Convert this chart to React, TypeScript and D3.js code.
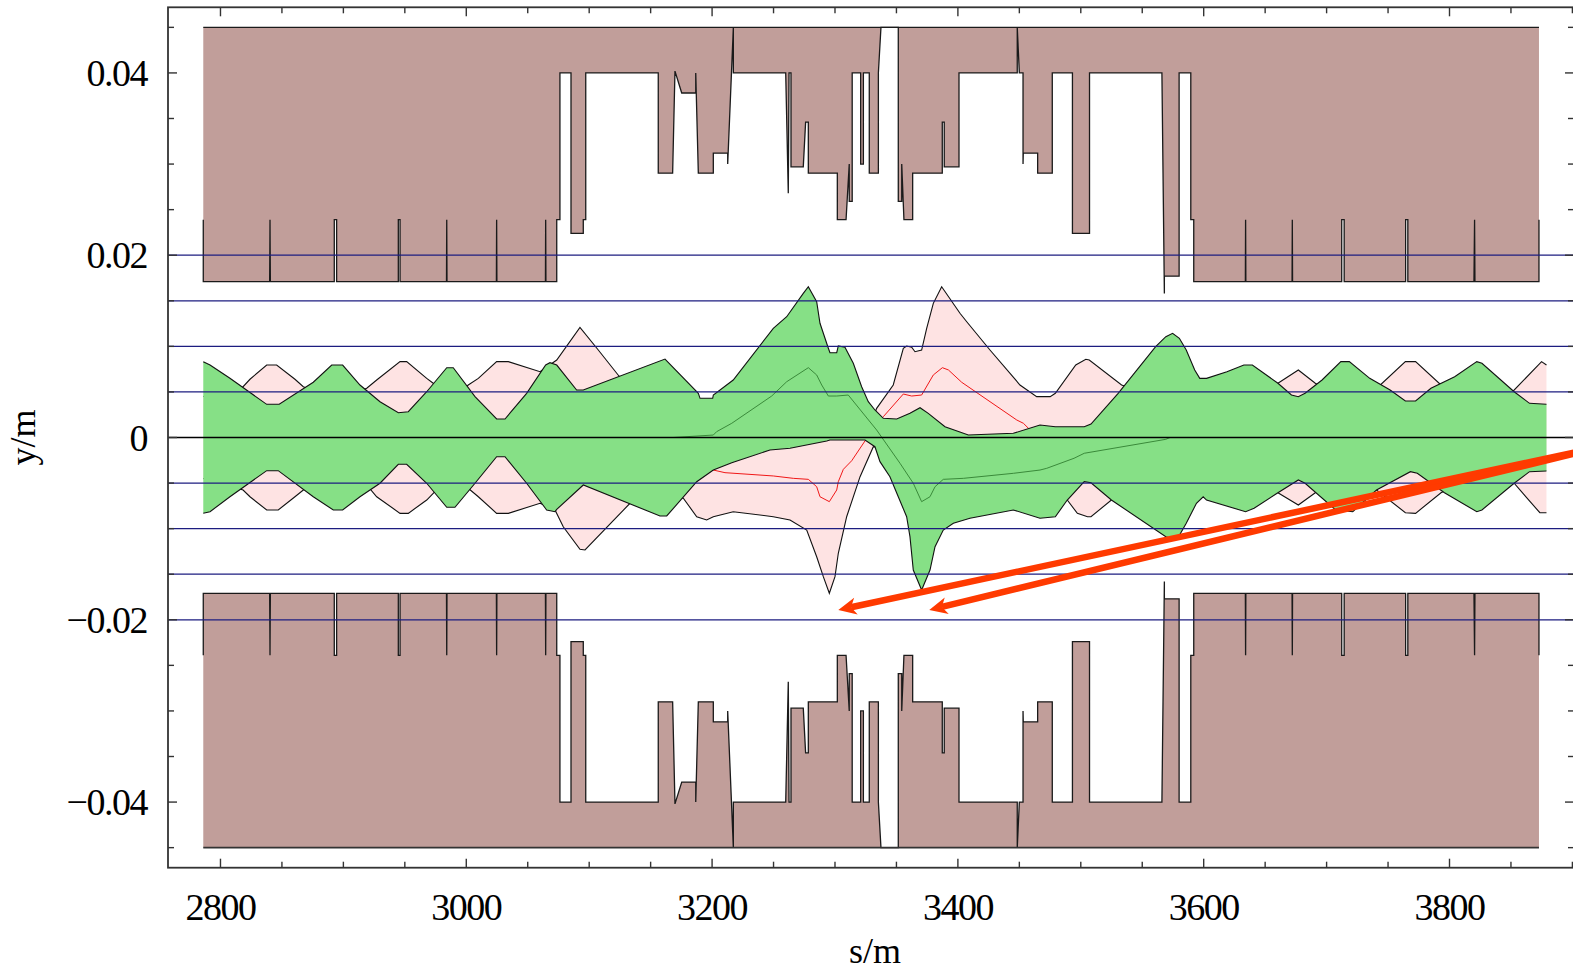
import * as d3 from "d3";

type Pt = [number, number];

// upper jaw of the aperture, [s (m), half-gap (m)]; the lower jaw is its mirror
const aperture: Pt[] = [
  [2786.0, 0.0239], [2786.0, 0.0171],
  [2840.0, 0.0171], [2840.3, 0.0239], [2840.6, 0.0171],
  [2892.6, 0.0171], [2892.6, 0.0239], [2894.5, 0.0239], [2894.5, 0.0171],
  [2944.7, 0.0171], [2944.7, 0.0239], [2946.1, 0.0239], [2946.1, 0.0171],
  [2983.9, 0.0171], [2984.1, 0.0239], [2984.3, 0.0171],
  [3024.5, 0.0171], [3024.7, 0.0239], [3024.9, 0.0171],
  [3064.4, 0.0171], [3064.6, 0.0239], [3064.8, 0.0171],
  [3073.6, 0.0171], [3073.6, 0.0239], [3076.2, 0.0239], [3076.2, 0.04],
  [3085.2, 0.04], [3085.2, 0.0224], [3095.2, 0.0224], [3095.2, 0.0239], [3097.2, 0.0239], [3097.2, 0.04],
  [3156.2, 0.04], [3156.2, 0.029], [3167.9, 0.029], [3169.8, 0.0402], [3175.3, 0.0378], [3186.7, 0.0378],
  [3186.7, 0.04], [3188.8, 0.029], [3201.0, 0.029], [3201.0, 0.0312], [3212.7, 0.0312], [3212.7, 0.03],
  [3217.3, 0.045], [3217.3, 0.04],
  [3259.9, 0.04], [3262.0, 0.0268], [3262.6, 0.04], [3264.2, 0.04], [3264.2, 0.0297], [3274.2, 0.0297],
  [3276.1, 0.0346], [3278.3, 0.0346], [3278.3, 0.029],
  [3301.9, 0.029], [3301.9, 0.0239], [3309.0, 0.0239], [3311.6, 0.03], [3311.6, 0.0259], [3314.0, 0.0259], [3314.0, 0.04],
  [3320.9, 0.04], [3320.9, 0.03], [3323.1, 0.03], [3323.1, 0.04], [3327.9, 0.04], [3327.9, 0.029],
  [3335.3, 0.029], [3335.3, 0.04], [3337.4, 0.045],
  [3351.5, 0.045], [3351.5, 0.0259], [3354.3, 0.0259], [3354.3, 0.03], [3356.1, 0.0239], [3363.2, 0.0239], [3363.2, 0.029],
  [3387.3, 0.029], [3387.3, 0.0346], [3388.9, 0.0346], [3388.9, 0.0297], [3400.9, 0.0297], [3400.9, 0.04],
  [3448.3, 0.04], [3448.3, 0.045], [3450.0, 0.04], [3453.0, 0.04], [3453.0, 0.03], [3453.2, 0.0312],
  [3464.9, 0.0312], [3464.9, 0.029], [3476.8, 0.029], [3476.8, 0.04],
  [3493.2, 0.04], [3493.2, 0.0224], [3507.1, 0.0224], [3507.1, 0.04],
  [3566.0, 0.04], [3568.0, 0.0158], [3568.0, 0.0177], [3580.0, 0.0177], [3580.0, 0.04],
  [3589.5, 0.04], [3589.5, 0.0239], [3591.9, 0.0239], [3591.9, 0.0171],
  [3633.9, 0.0171], [3634.1, 0.0239], [3634.3, 0.0171],
  [3671.9, 0.0171], [3672.1, 0.0239], [3672.3, 0.0171],
  [3712.3, 0.0171], [3712.3, 0.0239], [3714.3, 0.0239], [3714.3, 0.0171],
  [3764.3, 0.0171], [3764.3, 0.0239], [3766.1, 0.0239], [3766.1, 0.0171],
  [3819.9, 0.0171], [3820.4, 0.0239], [3820.7, 0.0171],
  [3872.8, 0.0171], [3872.8, 0.0239],
];
const jawLimit = 0.045;

// green beam envelope
const greenTop: Pt[] = [
  [2786.0, 0.00832], [2791.5, 0.00795], [2807.7, 0.0065], [2837.6, 0.00364], [2847.8, 0.00364],
  [2875.5, 0.00606], [2890.5, 0.00795], [2899.4, 0.00795], [2913.5, 0.00576], [2929.8, 0.00393],
  [2944.7, 0.00272], [2952.8, 0.00283], [2967.8, 0.00502], [2984.1, 0.00766], [2989.4, 0.00766],
  [3007.1, 0.00448], [3024.7, 0.00203], [3031.5, 0.00203], [3049.1, 0.00485], [3064.6, 0.00795],
  [3068.1, 0.00821], [3073.6, 0.00795], [3089.8, 0.00521], [3095.2, 0.00521], [3161.7, 0.00861],
  [3188.8, 0.00485], [3190.2, 0.0043], [3200.5, 0.0043], [3201.0, 0.00466], [3217.2, 0.00631],
  [3249.8, 0.01198], [3260.7, 0.01325], [3274.2, 0.01582], [3278.3, 0.01654], [3285.1, 0.0149],
  [3287.8, 0.01253], [3294.6, 0.00979], [3295.9, 0.0093], [3301.4, 0.0093], [3302.7, 0.01004],
  [3308.1, 0.0099], [3314.9, 0.00814], [3321.7, 0.00557], [3327.1, 0.00393], [3332.5, 0.00302],
  [3339.3, 0.00211], [3350.2, 0.00203], [3361.0, 0.00265], [3369.2, 0.00327], [3375.9, 0.00265],
  [3389.5, 0.00118], [3408.5, 0.00027], [3445.1, 0.00046], [3466.8, 0.00137], [3479.3, 0.00118],
  [3502.8, 0.00118], [3508.3, 0.00148], [3530.4, 0.00485], [3560.9, 0.00996], [3569.2, 0.01106],
  [3574.7, 0.01143], [3580.2, 0.01088], [3585.8, 0.0096], [3592.7, 0.00741], [3596.8, 0.00649],
  [3602.3, 0.00649], [3618.9, 0.00722], [3632.7, 0.00795], [3639.6, 0.00795], [3660.4, 0.00595],
  [3671.4, 0.00466], [3677.0, 0.00448], [3682.5, 0.00485], [3696.3, 0.00631], [3711.6, 0.00832],
  [3718.5, 0.00832], [3735.1, 0.00649], [3751.7, 0.00521], [3764.1, 0.004], [3772.4, 0.004],
  [3784.9, 0.0054], [3804.2, 0.00667], [3822.2, 0.00832], [3826.4, 0.00814], [3852.6, 0.00502],
  [3865.1, 0.00375], [3878.9, 0.00364],
];
const greenBot: Pt[] = [
  [2786.0, -0.00832], [2791.5, -0.00814], [2807.7, -0.0065], [2837.6, -0.00364], [2847.0, -0.00364],
  [2875.5, -0.0065], [2891.8, -0.00795], [2899.4, -0.00795], [2913.5, -0.0065], [2929.8, -0.00502],
  [2944.7, -0.00294], [2951.5, -0.00294], [2967.8, -0.00502], [2984.1, -0.00766], [2990.8, -0.00766],
  [3007.1, -0.00502], [3024.7, -0.00211], [3031.5, -0.00211], [3049.1, -0.00502], [3065.4, -0.00795],
  [3072.2, -0.00814], [3073.6, -0.00788], [3095.2, -0.00521], [3157.6, -0.00861], [3163.1, -0.00861],
  [3187.5, -0.00485], [3201.0, -0.00357], [3216.0, -0.00276], [3247.1, -0.00137], [3263.4, -0.00118],
  [3293.3, -0.00038], [3295.9, -0.00027], [3324.4, -0.00027], [3332.5, -0.00101], [3336.6, -0.00265],
  [3344.7, -0.0043], [3351.5, -0.0065], [3358.3, -0.00869], [3361.0, -0.01088], [3363.7, -0.01454],
  [3370.5, -0.01673], [3377.3, -0.01454], [3381.4, -0.01198], [3388.1, -0.01015], [3396.3, -0.00941],
  [3409.8, -0.00886], [3445.1, -0.00795], [3466.8, -0.00886], [3479.3, -0.00869], [3489.0, -0.00686],
  [3502.8, -0.00485], [3508.3, -0.00496], [3524.9, -0.00686], [3569.2, -0.01088], [3573.4, -0.01106],
  [3578.9, -0.01106], [3585.8, -0.00941], [3594.1, -0.00722], [3599.6, -0.0065], [3602.3, -0.00686],
  [3634.1, -0.00814], [3641.0, -0.00777], [3660.4, -0.00606], [3677.0, -0.00466], [3682.5, -0.00502],
  [3707.4, -0.00795], [3721.3, -0.00814], [3740.6, -0.00576], [3768.2, -0.00375], [3773.8, -0.00393],
  [3795.9, -0.00606], [3822.2, -0.00814], [3826.4, -0.00795], [3852.6, -0.00502], [3865.1, -0.00375],
  [3878.9, -0.00368],
];

// pink beam envelope
const pinkTop: Pt[] = [
  [2786.0, 0.0045], [2818.4, 0.00557], [2824.0, 0.00639], [2837.6, 0.00795], [2845.7, 0.00795],
  [2860.6, 0.00639], [2867.4, 0.00557], [2894.8, 0.0041], [2919.0, 0.0054], [2927.1, 0.00631],
  [2946.1, 0.00832], [2951.5, 0.00832], [2967.8, 0.00649], [2973.1, 0.00595], [2986.8, 0.0041],
  [3001.6, 0.00576], [3009.8, 0.00649], [3024.7, 0.00832], [3034.2, 0.00832], [3060.0, 0.00722],
  [3073.6, 0.0085], [3092.5, 0.01209], [3107.4, 0.0096], [3124.2, 0.00675], [3149.5, 0.0036],
  [3200.7, 0.0014], [3249.5, 0.0006], [3278.0, 0.0006], [3295.1, 0.0019], [3312.2, 0.0006],
  [3325.2, 0.0002], [3333.9, 0.0032], [3347.4, 0.00576], [3355.6, 0.00979], [3358.3, 0.01004],
  [3362.4, 0.0099], [3365.1, 0.00941], [3370.5, 0.0096], [3374.6, 0.01198], [3380.0, 0.01472],
  [3386.8, 0.01654], [3401.7, 0.01363], [3407.2, 0.0127], [3426.1, 0.0096], [3450.5, 0.00576],
  [3464.1, 0.00448], [3475.1, 0.00448], [3479.3, 0.00485], [3495.9, 0.00795], [3504.1, 0.00858],
  [3506.9, 0.0085], [3533.2, 0.00576], [3580.7, 0.0036], [3645.8, 0.0047], [3660.4, 0.00595],
  [3677.0, 0.00741], [3690.8, 0.00595], [3715.2, 0.0041], [3743.7, 0.00576], [3764.1, 0.00832],
  [3772.4, 0.00832], [3793.1, 0.00576], [3823.2, 0.0041], [3851.3, 0.00502], [3874.9, 0.00832],
  [3878.9, 0.00795],
];
const pinkBot: Pt[] = [
  [2786.0, -0.0045], [2818.4, -0.00576], [2824.0, -0.0065], [2837.6, -0.00795], [2847.0, -0.00795],
  [2860.6, -0.0065], [2867.4, -0.00576], [2894.8, -0.0044], [2919.0, -0.00521], [2927.1, -0.0065],
  [2946.1, -0.00832], [2952.8, -0.00832], [2967.8, -0.00686], [2973.1, -0.00612], [2986.8, -0.0044],
  [3001.6, -0.00557], [3009.8, -0.0065], [3024.7, -0.00832], [3034.2, -0.00832], [3060.0, -0.00722],
  [3072.2, -0.00795], [3078.9, -0.00979], [3092.5, -0.01227], [3096.6, -0.01234], [3133.2, -0.00722],
  [3157.6, -0.0063], [3176.6, -0.00667], [3187.5, -0.00869], [3195.6, -0.00905], [3201.0, -0.00869],
  [3217.2, -0.00814], [3249.8, -0.00869], [3263.4, -0.00905], [3277.0, -0.01015], [3285.1, -0.01308],
  [3290.5, -0.01527], [3295.4, -0.01709], [3300.0, -0.01527], [3302.7, -0.0127], [3309.5, -0.00869],
  [3320.4, -0.0043], [3331.2, -0.00101], [3352.9, -0.0016], [3385.4, -0.0016], [3426.1, -0.0022],
  [3466.8, -0.0033], [3483.0, -0.0058], [3489.0, -0.00686], [3497.2, -0.00832], [3505.5, -0.00869],
  [3508.3, -0.00869], [3524.9, -0.00686], [3580.7, -0.0036], [3645.8, -0.0047], [3660.4, -0.00606],
  [3677.0, -0.00741], [3690.8, -0.00606], [3715.2, -0.0041], [3740.6, -0.00576], [3764.1, -0.00825],
  [3772.4, -0.00832], [3793.1, -0.00606], [3823.2, -0.0041], [3852.6, -0.00502], [3873.5, -0.00825],
  [3878.9, -0.00825],
];

// beam centroids
const pinkOrbit: Pt[] = [
  [2786.0, 0], [3133.2, 0], [3173.9, -0.0019], [3201.0, -0.00357], [3210.5, -0.00386],
  [3249.8, -0.00422], [3266.1, -0.00448], [3278.3, -0.00459], [3285.1, -0.0054], [3287.8, -0.0065],
  [3295.4, -0.00704], [3301.4, -0.00576], [3302.7, -0.00485], [3306.8, -0.00349], [3313.6, -0.00255],
  [3324.4, -0.00038], [3339.3, 0.00228], [3355.6, 0.00477], [3362.4, 0.00455], [3370.5, 0.00466],
  [3380.0, 0.00686], [3387.4, 0.00766], [3392.3, 0.00741], [3403.1, 0.00606], [3447.9, 0.00192],
  [3453.3, 0.00156], [3457.4, 0.00101], [3471.0, 0], [3878.9, 0],
];
const greenOrbit: Pt[] = [
  [2786.0, 0], [3168.4, 0], [3201.0, 0.00027], [3203.7, 0.00064], [3216.0, 0.00156],
  [3248.5, 0.00455], [3260.7, 0.00612], [3278.3, 0.00766], [3285.1, 0.00686], [3289.2, 0.00576],
  [3294.6, 0.00455], [3301.4, 0.00455], [3310.8, 0.00466], [3333.9, 0.00082], [3352.9, -0.00283],
  [3363.7, -0.00502], [3370.5, -0.00704], [3377.3, -0.0065], [3381.4, -0.0054], [3388.1, -0.00459],
  [3404.4, -0.00448], [3445.1, -0.00393], [3466.8, -0.00357], [3472.3, -0.00338], [3494.5, -0.00228],
  [3502.8, -0.00173], [3569.2, -0.0002], [3572.6, 0], [3878.9, 0],
];

// annotation arrows: common origin off to the right, two tips
const arrowTail: Pt = [3930.6, -0.00082];
const arrowTips: Pt[] = [[3302.7, -0.01892], [3376.7, -0.01892]];

const xMajor = [2800, 3000, 3200, 3400, 3600, 3800];
const yMajor = [0.04, 0.02, 0, -0.02, -0.04];
const yLabels = ["0.04", "0.02", "0", "\u22120.02", "\u22120.04"];
const gridLevels = [0.02, 0.015, 0.01, 0.005, -0.005, -0.01, -0.015, -0.02];

const FONT = "'Liberation Serif', 'Times New Roman', serif";

export default function App() {
  const W = 1573, H = 972;
  const left = 168, right = 1574, top = 7.3, bottom = 867.7;

  const x = d3.scaleLinear([2757.3, 3901.3], [left, right]);
  const y = d3.scaleLinear([-0.0472, 0.0472], [bottom, top]);
  const line = d3.line<Pt>(d => x(d[0]), d => y(d[1]));

  const s0 = aperture[0][0];
  const s1 = aperture[aperture.length - 1][0];
  const upperFill: Pt[] = [[s0, jawLimit], ...aperture, [s1, jawLimit]];
  const lowerFill: Pt[] = upperFill.map(([s, v]) => [s, -v] as Pt);
  const lowerProfile: Pt[] = aperture.map(([s, v]) => [s, -v] as Pt);

  const band = (t: Pt[], b: Pt[]) => line([...t, ...b.slice().reverse()]) + "Z";

  const xMinor = d3.range(2800, 3901, 50);
  const yMinor = d3.range(-9, 10).map(i => i * 0.005);

  const arrows = arrowTips.map(tip => {
    const tx = x(tip[0]), ty = y(tip[1]);
    const ox = x(arrowTail[0]), oy = y(arrowTail[1]);
    const len = Math.hypot(ox - tx, oy - ty);
    const dx = (ox - tx) / len, dy = (oy - ty) / len;
    const nx = -dy, ny = dx;
    const head = [
      [tx, ty],
      [tx + dx * 18 + nx * 8.5, ty + dy * 18 + ny * 8.5],
      [tx + dx * 13, ty + dy * 13],
      [tx + dx * 18 - nx * 8.5, ty + dy * 18 - ny * 8.5],
    ];
    return {
      shaft: [tx + dx * 13, ty + dy * 13, ox, oy],
      head: head.map(p => p.join(",")).join(" "),
    };
  });

  return (
    <svg width={W} height={H} style={{ position: "absolute", left: 0, top: 0, background: "#fff" }}>
      {/* aperture */}
      <path d={line(upperFill) + "Z"} fill="#c19e9a" stroke="none" />
      <path d={line(lowerFill) + "Z"} fill="#c19e9a" stroke="none" />
      <path d={line(aperture)!} fill="none" stroke="#1a1a1a" strokeWidth={1.3} />
      <path d={line(lowerProfile)!} fill="none" stroke="#1a1a1a" strokeWidth={1.3} />
      <line x1={x(s0)} x2={x(s1)} y1={y(jawLimit)} y2={y(jawLimit)} stroke="#1a1a1a" strokeWidth={1.3} />
      <line x1={x(s0)} x2={x(s1)} y1={y(-jawLimit)} y2={y(-jawLimit)} stroke="#333" strokeWidth={1.6} />

      {/* pink beam */}
      <path d={band(pinkTop, pinkBot)} fill="#fee3e3" stroke="none" />
      <path d={line(pinkTop)!} fill="none" stroke="#111" strokeWidth={1.1} />
      <path d={line(pinkBot)!} fill="none" stroke="#111" strokeWidth={1.1} />
      <path d={line(pinkOrbit)!} fill="none" stroke="#f01818" strokeWidth={1} />

      {/* green beam */}
      <path d={band(greenTop, greenBot)} fill="#86e086" stroke="none" />
      <path d={line(greenTop)!} fill="none" stroke="#111" strokeWidth={1.1} />
      <path d={line(greenBot)!} fill="none" stroke="#111" strokeWidth={1.1} />
      <path d={line(greenOrbit)!} fill="none" stroke="#3a8a3a" strokeWidth={1} />

      {/* reference levels */}
      {gridLevels.map(v => (
        <line key={v} x1={left} x2={right} y1={y(v)} y2={y(v)} stroke="#1c1c80" strokeWidth={1.3} />
      ))}
      <line x1={left} x2={right} y1={y(0)} y2={y(0)} stroke="#000" strokeWidth={1.3} />

      {/* frame and ticks */}
      <rect x={left} y={top} width={right - left} height={bottom - top} fill="none" stroke="#333" strokeWidth={1.8} />
      {xMinor.map(s => {
        const len = xMajor.includes(s) ? 9 : 6;
        return (
          <g key={s} stroke="#333" strokeWidth={1.4}>
            <line x1={x(s)} x2={x(s)} y1={bottom} y2={bottom - len} />
            <line x1={x(s)} x2={x(s)} y1={top} y2={top + len} />
          </g>
        );
      })}
      {yMinor.map((v, i) => {
        const len = i % 4 === 1 || v === 0 ? 9 : 6;
        return (
          <g key={i} stroke="#333" strokeWidth={1.4}>
            <line x1={left} x2={left + len} y1={y(v)} y2={y(v)} />
            <line x1={right} x2={right - len} y1={y(v)} y2={y(v)} />
          </g>
        );
      })}

      {/* tick labels */}
      <g fontFamily={FONT} fontSize={38} fill="#000" letterSpacing={-1.5}>
        {xMajor.map(s => (
          <text key={s} x={x(s)} y={920} textAnchor="middle">{s}</text>
        ))}
        {yMajor.map((v, i) => (
          <text key={v} x={147} y={y(v) + 13} textAnchor="end">{yLabels[i]}</text>
        ))}
      </g>
      <g fontFamily={FONT} fontSize={36} fill="#000">
        <text x={875} y={963} textAnchor="middle">s/m</text>
        <text transform={`translate(35,${y(0)}) rotate(-90)`} textAnchor="middle">y/m</text>
      </g>

      {/* arrows */}
      {arrows.map((a, i) => (
        <g key={i}>
          <line x1={a.shaft[0]} y1={a.shaft[1]} x2={a.shaft[2]} y2={a.shaft[3]} stroke="#ff3a00" strokeWidth={6.5} />
          <polygon points={a.head} fill="#ff3a00" />
        </g>
      ))}
    </svg>
  );
}
